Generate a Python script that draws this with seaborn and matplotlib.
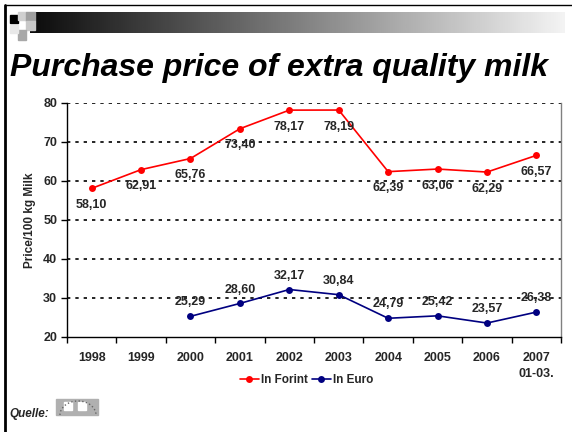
import numpy as np
import pandas as pd
import matplotlib
matplotlib.use("Agg")
import matplotlib.pyplot as plt
import seaborn as sns
from matplotlib.patches import Rectangle, Arc

years = ["1998", "1999", "2000", "2001", "2002", "2003", "2004", "2005", "2006", "2007\n01-03."]
forint = [58.10, 62.91, 65.76, 73.40, 78.17, 78.19, 62.39, 63.06, 62.29, 66.57]
euro = [np.nan, np.nan, 25.29, 28.60, 32.17, 30.84, 24.79, 25.42, 23.57, 26.38]

sns.set_theme(style="white")
plt.rcParams["font.family"] = ["Liberation Sans", "DejaVu Sans"]

df = pd.DataFrame({"pos": np.arange(len(years)), "In Forint": forint, "In Euro": euro})
long_df = df.melt(id_vars="pos", var_name="series", value_name="price").dropna()

fig = plt.figure(figsize=(5.72, 4.32), dpi=100)

# slide decoration: borders and gradient header bar
deco = fig.add_axes([0, 0, 1, 1], zorder=-1)
deco.set_xlim(0, 572)
deco.set_ylim(432, 0)
deco.axis("off")
deco.plot([5, 5], [5, 432], color="black", lw=2)
deco.plot([5, 572], [5, 5], color="black", lw=1)
grad = np.linspace(0, 1, 256)[None, :]
deco.imshow(grad, cmap="gray", extent=[30, 565, 33, 12], aspect="auto", vmin=-0.05, vmax=1.05)
deco.add_patch(Rectangle((10, 15), 8, 8, color="black"))
deco.add_patch(Rectangle((18, 12), 8, 8, color="#d0d0d0"))
deco.add_patch(Rectangle((26, 12), 9, 9, color="#a0a0a0"))
deco.add_patch(Rectangle((26, 21), 9, 9, color="#c8c8c8"))
deco.add_patch(Rectangle((18, 30), 8, 10, color="#a8a8a8"))
deco.add_patch(Rectangle((10, 25), 8, 8, color="#e8e8e8"))
# source logo
deco.add_patch(Rectangle((56, 399), 42, 16, color="#b0b0b0"))
deco.add_patch(Rectangle((64, 402), 8, 8, color="white"))
deco.add_patch(Rectangle((78, 402), 8, 8, color="white"))
deco.add_patch(Arc((78, 415), 36, 28, theta1=180, theta2=360, color="#666666", lw=1, ls=":"))

fig.text(0.017, 0.825, "Purchase price of extra quality milk", fontsize=23,
         fontweight="bold", fontstyle="italic", color="black")
fig.text(0.017, 0.035, "Quelle:", fontsize=8.5, fontweight="bold", fontstyle="italic")

ax = fig.add_axes([0.117, 0.22, 0.864, 0.5416])
palette = {"In Forint": "#ff0000", "In Euro": "#000080"}
sns.lineplot(data=long_df, x="pos", y="price", hue="series", palette=palette,
             marker="o", markersize=5, markeredgewidth=0, linewidth=1.2, ax=ax)

ax.set_xlim(-0.5, len(years) - 0.5)
ax.set_ylim(20, 80)
ax.set_yticks(range(20, 81, 10))
ax.set_xticks(np.arange(len(years)))
ax.set_xticklabels(years, fontweight="bold", fontsize=9, linespacing=1.4)
ax.set_xticks(np.arange(-0.5, len(years)), minor=True)
ax.tick_params(axis="x", which="major", length=0, pad=11)
ax.tick_params(axis="x", which="minor", length=4, direction="out", color="black", width=1, bottom=True)
ax.tick_params(axis="y", length=4, direction="out", color="black", width=1, left=True, labelsize=9, pad=3)
for lab in ax.get_yticklabels():
    lab.set_fontweight("bold")

for y in range(30, 81, 10):
    ax.axhline(y, color="black", lw=1.2, ls=(0, (2, 3)), zorder=0)

for s in ["left", "bottom"]:
    ax.spines[s].set_color("black")
    ax.spines[s].set_linewidth(1)
ax.spines["top"].set_visible(False)
ax.spines["right"].set_color("#808080")
ax.spines["right"].set_linewidth(1)

ax.set_xlabel("")
ax.set_ylabel("Price/100 kg Milk", fontsize=8.5, fontweight="bold", labelpad=5)

for i, v in enumerate(forint):
    ax.annotate(f"{v:.2f}".replace(".", ","), (i, v), xytext=(0, -12), textcoords="offset points",
                ha="center", va="center", fontsize=9, fontweight="bold")
for i, v in enumerate(euro):
    if not np.isnan(v):
        ax.annotate(f"{v:.2f}".replace(".", ","), (i, v), xytext=(0, 10), textcoords="offset points",
                    ha="center", va="center", fontsize=9, fontweight="bold")

leg = ax.legend(loc="upper center", bbox_to_anchor=(0.485, -0.115), ncol=2, frameon=False,
                fontsize=8.5, handlelength=1.6, columnspacing=0.3, handletextpad=0.2)
for t in leg.get_texts():
    t.set_fontweight("bold")

fig.savefig("out.png", dpi=100)
